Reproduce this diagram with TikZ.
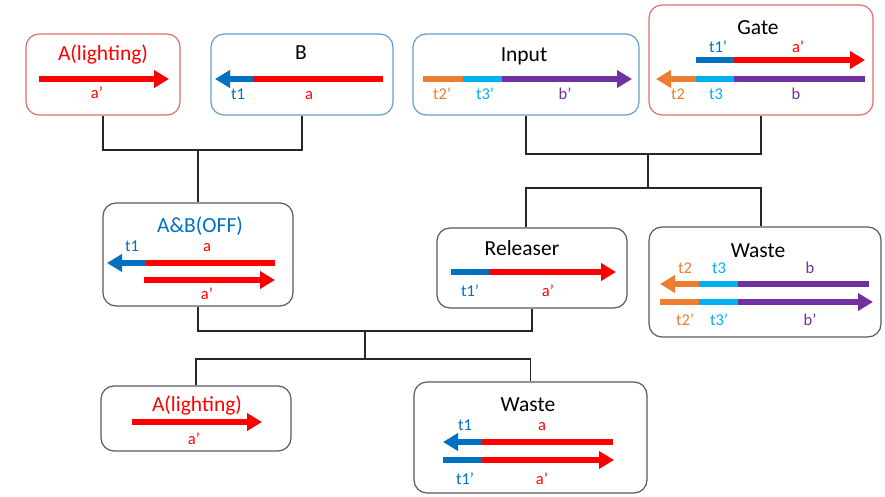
\documentclass[tikz,border=0pt]{standalone}
\usepackage{fontspec}
\setmainfont{Carlito}
\usetikzlibrary{arrows.meta}
\definecolor{cred}{RGB}{255,0,0}
\definecolor{cblue}{RGB}{0,112,192}
\definecolor{clblue}{RGB}{0,176,240}
\definecolor{corange}{RGB}{237,125,49}
\definecolor{cpurple}{RGB}{112,48,160}
\definecolor{bred}{RGB}{224,108,108}
\definecolor{bblue}{RGB}{96,158,210}
\definecolor{bgray}{RGB}{89,89,89}
\definecolor{cline}{RGB}{38,38,38}
\tikzset{
  box/.style={draw, line width=1.2pt, rounded corners=13pt, inner sep=0pt, minimum width=#1},
  title/.style={anchor=base, inner sep=0pt, font=\fontsize{21.5}{25}\selectfont},
  lbl/.style={anchor=base, inner sep=0pt, font=\fontsize{16.5}{19}\selectfont},
  strand/.style={line width=6pt},
  head/.style={-{Triangle[length=15pt,width=17pt]}},
  conn/.style={draw=cline, line width=1.4pt}
}
\begin{document}
\begin{tikzpicture}[x=1pt,y=-1pt]
\useasboundingbox (0,0) rectangle (885,497);
% boxes
\node[box=154pt, draw=bred, minimum height=81pt] (A1) at (103,74.5) {};
\node[box=182pt, draw=bblue, minimum height=81pt] (B) at (302,74.5) {};
\node[box=226pt, draw=bblue, minimum height=81pt] (In) at (526,74.5) {};
\node[box=224pt, draw=bred, minimum height=110pt] (G) at (761,60) {};
\node[box=190pt, draw=bgray, minimum height=103pt] (AB) at (198,254.5) {};
\node[box=190pt, draw=bgray, minimum height=80pt] (R) at (532,268) {};
\node[box=232pt, draw=bgray, minimum height=110pt] (W2) at (765,282) {};
\node[box=190pt, draw=bgray, minimum height=65pt] (A2) at (196,418.5) {};
\node[box=233pt, draw=bgray, minimum height=111pt] (W1) at (530.5,437.5) {};
% connectors
\coordinate (j1) at (198,150);
\coordinate (j2) at (648,154);
\coordinate (j3) at (648,188);
\coordinate (j4) at (365,331);
\coordinate (j5) at (365,359);
\draw[conn] (A1.south) |- (j1) -| (B.south);
\draw[conn] (j1) -- (AB.north);
\draw[conn] (In.south) |- (j2) -| (G.south);
\draw[conn] (j2) -- (j3);
\draw[conn] (R.north -| In.south) |- (j3) -| (W2.north -| G.south);
\draw[conn] (AB.south) |- (j4) -| (R.south);
\draw[conn] (j4) -- (j5);
\draw[conn] (A2.north) |- (j5) -| (W1.north);
% titles
\node[title, text=cred] (tA1) at (103,61) {A(lighting)};
\node[title] (tB) at (301,60) {B};
\node[title] (tIn) at (524,62) {Input};
\node[title] (tG) at (758,35) {Gate};
\node[title, text=cblue] (tAB) at (200,232) {A\&B(OFF)};
\node[title] (tR) at (522,255) {Releaser};
\node[title] (tW2) at (758,257) {Waste};
\node[title, text=cred] (tA2) at (197,411) {A(lighting)};
\node[title] (tW1) at (528,411) {Waste};
% strands: A top
\draw[strand, cred, head] (39,79) -- (169,79);
\node[lbl, text=cred] (l1) at (97,99) {a’};
% B
\draw[strand, cred] (383,79) -- (252,79);
\draw[strand, cblue, head] (253,79) -- (215,79);
\node[lbl, text=cblue] (l2) at (238,100) {t1};
\node[lbl, text=cred] (l3) at (309,100) {a};
% Input
\draw[strand, corange] (423,79) -- (463.5,79);
\draw[strand, clblue] (463,79) -- (502.5,79);
\draw[strand, cpurple, head] (502,79) -- (632,79);
\node[lbl, text=corange] (l4) at (442,100) {t2’};
\node[lbl, text=clblue] (l5) at (485,100) {t3’};
\node[lbl, text=cpurple] (l6) at (565,100) {b’};
% Gate
\draw[strand, cblue] (696,60) -- (734.5,60);
\draw[strand, cred, head] (734,60) -- (865,60);
\node[lbl, text=cblue] (l7) at (718,53) {t1’};
\node[lbl, text=cred] (l8) at (798,53) {a’};
\draw[strand, cpurple] (865,79) -- (733.5,79);
\draw[strand, clblue] (734,79) -- (695.5,79);
\draw[strand, corange, head] (696,79) -- (656,79);
\node[lbl, text=corange] (l9) at (678,100) {t2};
\node[lbl, text=clblue] (l10) at (716,100) {t3};
\node[lbl, text=cpurple] (l11) at (796,100) {b};
% A&B
\draw[strand, cred] (275,263) -- (145.5,263);
\draw[strand, cblue, head] (146,263) -- (107,263);
\draw[strand, cred, head] (144,280) -- (275,280);
\node[lbl, text=cblue] (l12) at (132,251) {t1};
\node[lbl, text=cred] (l13) at (207,251) {a};
\node[lbl, text=cred] (l14) at (207,299) {a’};
% Releaser
\draw[strand, cblue] (451,272) -- (489.5,272);
\draw[strand, cred, head] (489,272) -- (616,272);
\node[lbl, text=cblue] (l15) at (470,296) {t1’};
\node[lbl, text=cred] (l16) at (548,296) {a’};
% Waste right
\draw[strand, cpurple] (869,284) -- (737.5,284);
\draw[strand, clblue] (738,284) -- (698.5,284);
\draw[strand, corange, head] (699,284) -- (660,284);
\node[lbl, text=corange] (l17) at (685,273) {t2};
\node[lbl, text=clblue] (l18) at (719,273) {t3};
\node[lbl, text=cpurple] (l19) at (810,273) {b};
\draw[strand, corange] (660,302) -- (699.5,302);
\draw[strand, clblue] (699,302) -- (738.5,302);
\draw[strand, cpurple, head] (738,302) -- (873,302);
\node[lbl, text=corange] (l20) at (685,325) {t2’};
\node[lbl, text=clblue] (l21) at (719,325) {t3’};
\node[lbl, text=cpurple] (l22) at (810,325) {b’};
% A bottom
\draw[strand, cred, head] (132,422) -- (262,422);
\node[lbl, text=cred] (l23) at (194,444) {a’};
% Waste bottom
\draw[strand, cred] (613,442) -- (481.5,442);
\draw[strand, cblue, head] (482,442) -- (443,442);
\node[lbl, text=cblue] (l24) at (465,430) {t1};
\node[lbl, text=cred] (l25) at (542,430) {a};
\draw[strand, cblue] (443,460) -- (482.5,460);
\draw[strand, cred, head] (482,460) -- (614,460);
\node[lbl, text=cblue] (l26) at (465,484) {t1’};
\node[lbl, text=cred] (l27) at (542,484) {a’};
\end{tikzpicture}
\end{document}
